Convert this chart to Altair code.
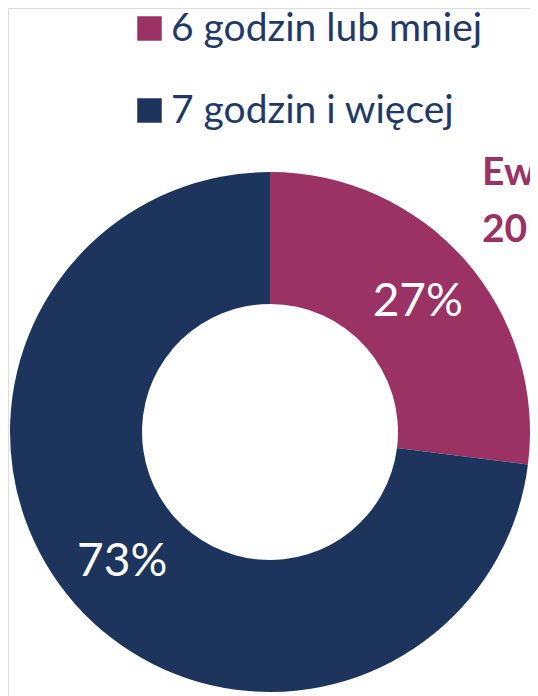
import altair as alt
import pandas as pd

categories = ["6 godzin lub mniej", "7 godzin i więcej"]
values = [27, 73]
labels = ["27%", "73%"]
order = [1, 2]
colors = ["#9A3364", "#1D355D"]
title_line1 = "Ewaluacja"
title_line2 = "2018"

df = pd.DataFrame({"cat": categories, "value": values, "label": labels, "order": order})

CX, CY = 262, 424

base = alt.Chart(df).encode(
    theta=alt.Theta("value:Q", stack=True),
    order=alt.Order("order:Q"),
)

arcs = base.mark_arc(radius=260, radius2=128, stroke=None).encode(
    x=alt.value(CX),
    y=alt.value(CY),
    color=alt.Color(
        "cat:N",
        scale=alt.Scale(domain=categories, range=colors),
        legend=alt.Legend(
            title=None,
            orient="none",
            legendX=122,
            legendY=1,
            symbolType="square",
            symbolSize=600,
            symbolStrokeWidth=0,
            labelFontSize=39,
            labelFont="Lato",
            labelColor="#1F3A68",
            labelLimit=500,
            labelOffset=2,
            rowPadding=42,
            padding=0,
        ),
    ),
)

text = base.mark_text(radius=197, font="Lato", fontSize=46, color="white").encode(
    x=alt.value(CX),
    y=alt.value(CY),
    text="label:N",
)

tstyle = dict(font="Lato", fontSize=39, fontWeight="bold", color="#9A3364",
              align="left", baseline="alphabetic")
t1 = alt.Chart(pd.DataFrame({"t": [title_line1]})).mark_text(**tstyle).encode(
    x=alt.value(474), y=alt.value(177), text="t:N")
t2 = alt.Chart(pd.DataFrame({"t": [title_line2]})).mark_text(**tstyle).encode(
    x=alt.value(474), y=alt.value(234), text="t:N")

chart = alt.layer(arcs, text, t1, t2).properties(
    width=522, height=688, padding=0, autosize=alt.AutoSizeParams(type="none")
).configure_view(stroke=None).configure(background="white")

chart.save("out.html", embed_options={"renderer": "svg", "actions": False})
